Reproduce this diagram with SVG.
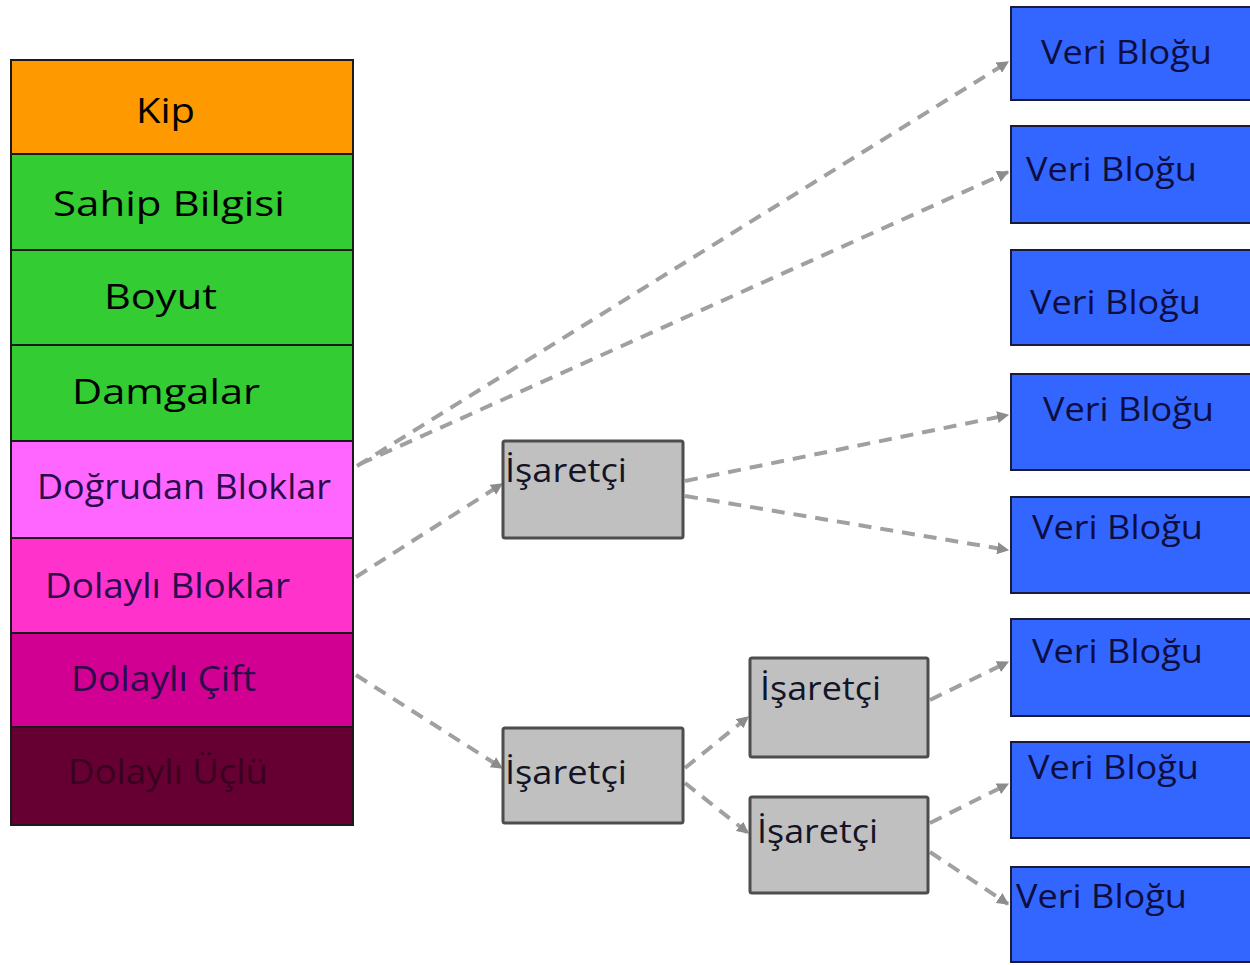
<svg xmlns="http://www.w3.org/2000/svg" width="1250" height="965" viewBox="0 0 1250 965">
<defs>
<marker id="arr" viewBox="0 0 10 10" refX="9" refY="5" markerWidth="12" markerHeight="12" markerUnits="userSpaceOnUse" orient="auto">
<path d="M0,0 L10,5 L0,10 z" fill="#8c8c8c"/>
</marker>
<style>
.row{stroke:#1a1a1a;stroke-width:2}
.st{font-family:"Open Sans","Liberation Sans",sans-serif;font-size:35px;fill:#000}
.pt{font-family:"Open Sans","Liberation Sans",sans-serif;font-size:35px;fill:#2a0a4a}
.gray{fill:#c0c0c0;stroke:#4d4d4d;stroke-width:3}
.gt{font-family:"Open Sans","Liberation Sans",sans-serif;font-size:32px;fill:#141428}
.blue{fill:#3366ff;stroke:#1a1a3a;stroke-width:2}
.bt{font-family:"Open Sans","Liberation Sans",sans-serif;font-size:32px;fill:#0d0d40}
.con{fill:none;stroke:#a0a0a0;stroke-width:4;stroke-dasharray:13 9;marker-end:url(#arr)}
</style>
</defs>
<rect width="1250" height="965" fill="#ffffff"/>

<g id="stack">
<g id="kip"><rect class="row" x="11" y="60" width="342" height="94" fill="#ff9900"/><text class="st" x="136" y="123" textLength="59" lengthAdjust="spacingAndGlyphs">Kip</text></g>
<g id="sahip"><rect class="row" x="11" y="154" width="342" height="96" fill="#33cc33"/><text class="st" x="53" y="216" textLength="232" lengthAdjust="spacingAndGlyphs">Sahip Bilgisi</text></g>
<g id="boyut"><rect class="row" x="11" y="250" width="342" height="95" fill="#33cc33"/><text class="st" x="104" y="309" textLength="113" lengthAdjust="spacingAndGlyphs">Boyut</text></g>
<g id="damgalar"><rect class="row" x="11" y="345" width="342" height="96" fill="#33cc33"/><text class="st" x="72" y="404" textLength="188" lengthAdjust="spacingAndGlyphs">Damgalar</text></g>
<g id="dogrudan"><rect class="row" x="11" y="441" width="342" height="97" fill="#ff66ff" stroke="#6a1060"/><text class="pt" x="37" y="499" textLength="294" lengthAdjust="spacingAndGlyphs">Doğrudan Bloklar</text></g>
<g id="dolayli"><rect class="row" x="11" y="538" width="342" height="95" fill="#ff33cc"/><text class="pt" x="45" y="598" textLength="245" lengthAdjust="spacingAndGlyphs">Dolaylı Bloklar</text></g>
<g id="cift"><rect class="row" x="11" y="633" width="342" height="94" fill="#d10093"/><text class="pt" x="71" y="691" textLength="185" lengthAdjust="spacingAndGlyphs">Dolaylı Çift</text></g>
<g id="uclu"><rect class="row" x="11" y="727" width="342" height="98" fill="#660033"/><text class="pt" x="68" y="784" textLength="200" lengthAdjust="spacingAndGlyphs" style="fill:#3a0020">Dolaylı Üçlü</text></g>
</g>

<g id="connectors">
<line class="con" x1="357" y1="466" x2="1008" y2="62"/>
<line class="con" x1="360" y1="464" x2="1008" y2="172"/>
<line class="con" x1="356" y1="577" x2="502" y2="484"/>
<line class="con" x1="685" y1="481" x2="1008" y2="415"/>
<line class="con" x1="685" y1="496" x2="1008" y2="550"/>
<line class="con" x1="356" y1="675" x2="502" y2="768"/>
<line class="con" x1="685" y1="768" x2="748" y2="717"/>
<line class="con" x1="685" y1="783" x2="748" y2="833"/>
<line class="con" x1="930" y1="700" x2="1008" y2="662"/>
<line class="con" x1="930" y1="823" x2="1008" y2="784"/>
<line class="con" x1="930" y1="852" x2="1008" y2="904"/>
</g>

<g id="ptr1"><rect class="gray" x="503" y="441" width="180" height="97" rx="2"/><text class="gt" x="505" y="482" textLength="122" lengthAdjust="spacingAndGlyphs">İşaretçi</text></g>
<g id="ptr2"><rect class="gray" x="503" y="728" width="180" height="95" rx="2"/><text class="gt" x="505" y="784" textLength="122" lengthAdjust="spacingAndGlyphs">İşaretçi</text></g>
<g id="ptr3"><rect class="gray" x="750" y="658" width="178" height="99" rx="2"/><text class="gt" x="760" y="700" textLength="121" lengthAdjust="spacingAndGlyphs">İşaretçi</text></g>
<g id="ptr4"><rect class="gray" x="750" y="797" width="178" height="96" rx="2"/><text class="gt" x="757" y="843" textLength="121" lengthAdjust="spacingAndGlyphs">İşaretçi</text></g>

<g id="data1"><rect class="blue" x="1011" y="7" width="250" height="93"/><text class="bt" x="1041" y="64" textLength="171" lengthAdjust="spacingAndGlyphs">Veri Bloğu</text></g>
<g id="data2"><rect class="blue" x="1011" y="126" width="250" height="97"/><text class="bt" x="1026" y="181" textLength="171" lengthAdjust="spacingAndGlyphs">Veri Bloğu</text></g>
<g id="data3"><rect class="blue" x="1011" y="250" width="250" height="95"/><text class="bt" x="1030" y="314" textLength="171" lengthAdjust="spacingAndGlyphs">Veri Bloğu</text></g>
<g id="data4"><rect class="blue" x="1011" y="374" width="250" height="96"/><text class="bt" x="1043" y="421" textLength="171" lengthAdjust="spacingAndGlyphs">Veri Bloğu</text></g>
<g id="data5"><rect class="blue" x="1011" y="497" width="250" height="96"/><text class="bt" x="1032" y="539" textLength="171" lengthAdjust="spacingAndGlyphs">Veri Bloğu</text></g>
<g id="data6"><rect class="blue" x="1011" y="619" width="250" height="97"/><text class="bt" x="1032" y="663" textLength="171" lengthAdjust="spacingAndGlyphs">Veri Bloğu</text></g>
<g id="data7"><rect class="blue" x="1011" y="742" width="250" height="96"/><text class="bt" x="1028" y="779" textLength="171" lengthAdjust="spacingAndGlyphs">Veri Bloğu</text></g>
<g id="data8"><rect class="blue" x="1011" y="867" width="250" height="95"/><text class="bt" x="1016" y="908" textLength="171" lengthAdjust="spacingAndGlyphs">Veri Bloğu</text></g>
</svg>
